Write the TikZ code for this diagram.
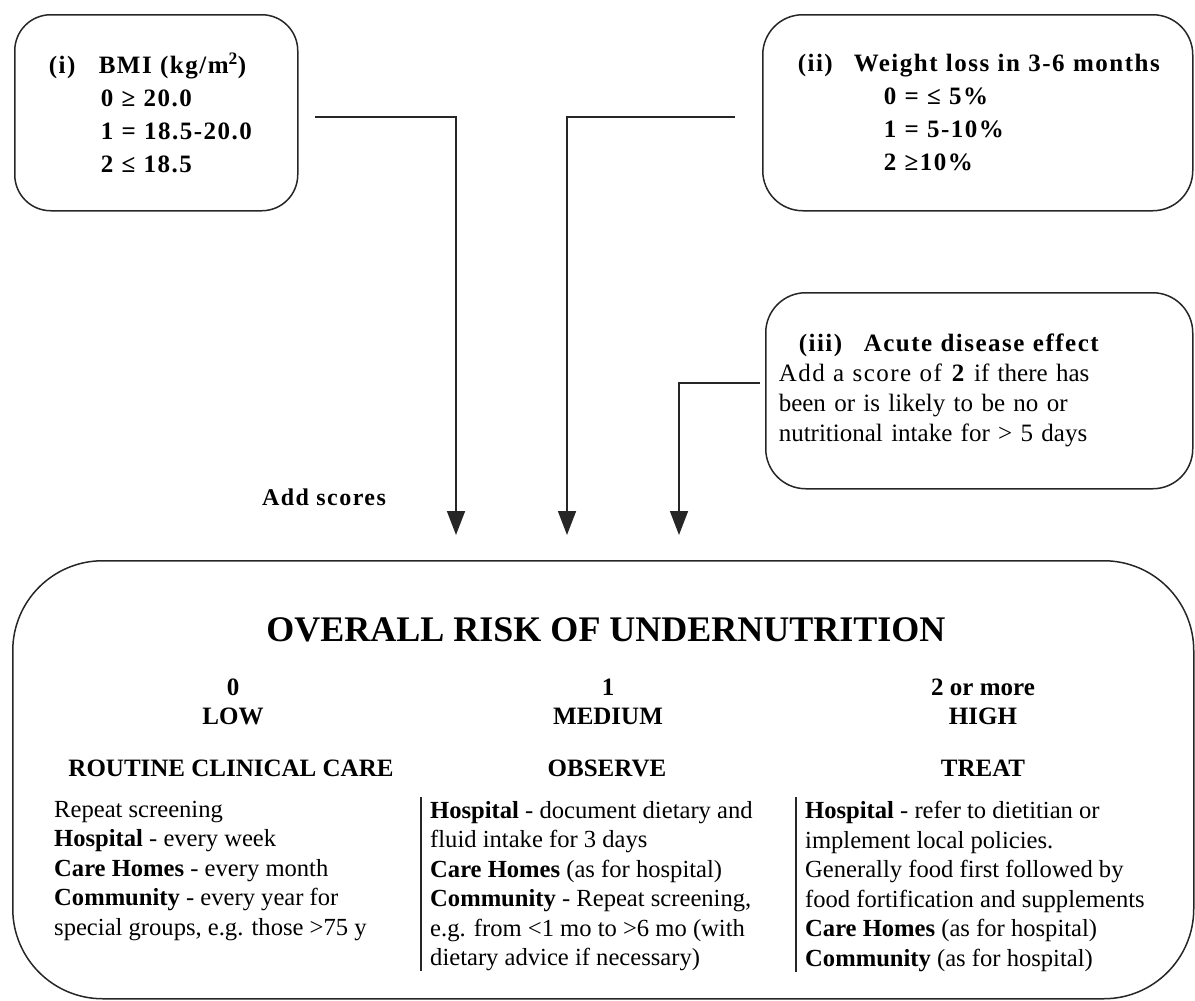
\documentclass[tikz,border=0pt]{standalone}
\usepackage{fontspec}
\setmainfont{Liberation Serif}
\newfontfamily\widefont[LetterSpace=6]{Liberation Serif}
\usetikzlibrary{arrows.meta}

\begin{document}
\begin{tikzpicture}[
    x=1pt, y=-1pt,
    every node/.style = {inner sep=0pt},
    scorebox/.style = {
      draw=black!85, line width=1.5pt,
      rounded corners=36pt,
      anchor=north west, align=left,
      minimum height=196pt, inner ysep=0pt
    },
    flowline/.style = {
      draw=black!85, line width=1.7pt,
      -{Triangle[width=18pt,length=24pt]}
    },
    barline/.style = {draw=black!85, line width=1.4pt},
    scorefont/.style = {font=\widefont\bfseries\fontsize{25}{33}\selectfont},
    headfont/.style = {font=\bfseries\fontsize{25}{29}\selectfont, align=center},
    bodyfont/.style = {font=\fontsize{24.6}{29.5}\selectfont, anchor=north west, align=left}
  ]
    \useasboundingbox (0,0) rectangle (1195,1001);

    % Score boxes
    \node[scorebox, scorefont, text width=215pt, inner xsep=34pt] (bmi) at (14,14)
      {\makebox[50pt][l]{(i)}BMI (kg/m\textsuperscript{2})\\
       \hspace*{52pt}0 ≥ 20.0\\
       \hspace*{52pt}1 = 18.5-20.0\\
       \hspace*{52pt}2 ≤ 18.5};
    \node[scorebox, scorefont, text width=360pt, inner xsep=35pt, rounded corners=40pt] (wtloss) at (762,14)
      {\mbox{\makebox[56pt][l]{(ii)}Weight loss in 3-6 months}\\
       \hspace*{86pt}0 = ≤ 5\%\\
       \hspace*{86pt}1 = 5-10\%\\
       \hspace*{86pt}2 ≥10\%};
    \node[scorebox, text width=401pt, inner xsep=13pt, rounded corners=40pt,
          font=\fontsize{25}{30}\selectfont] (acute) at (765,292)
      {\hspace*{20pt}{\widefont\bfseries\makebox[65pt][l]{(iii)}Acute disease effect}\\
       {\widefont Add a score of \textbf{2}} if there has\\
       been or is likely to be no or\\
       nutritional intake for > 5 days};

    % Connectors
    \coordinate (bmiout) at (315,117);
    \coordinate (wtout) at (735,117);
    \coordinate (acuteout) at (760,383);
    \coordinate (tipA) at (456,535);
    \coordinate (tipB) at (567,535);
    \coordinate (tipC) at (679,535);
    \draw[flowline] (bmiout) -| (tipA);
    \draw[flowline] (wtout) -| (tipB);
    \draw[flowline] (acuteout) -| (tipC);

    \node[font=\widefont\bfseries\fontsize{24}{28}\selectfont] (addscores) at (324,497) {Add scores};

    % Overall risk box
    \node[draw=black!85, line width=1.5pt, rounded corners=90pt, anchor=north west,
          minimum width=1181pt, minimum height=438pt] (risk) at (12,560) {};
    \node[font=\bfseries\fontsize{36}{40}\selectfont] (title) at (606,630)
      {OVERALL RISK OF UNDERNUTRITION};

    % Low risk
    \node[headfont] (lowlvl) at (233,702) {0\\LOW};
    \node[headfont] (lowact) at (231,768) {ROUTINE CLINICAL CARE};
    \node[bodyfont] (lowbody) at (54,801)
      {Repeat screening\\
       \textbf{Hospital} - every week\\
       \textbf{Care Homes} - every month\\
       \textbf{Community} - every year for\\
       special groups, e.g. those >75 y};

    % Medium risk
    \node[headfont] (medlvl) at (608,702) {1\\MEDIUM};
    \node[headfont] (medact) at (607,768) {OBSERVE};
    \node[bodyfont] (medbody) at (430,801)
      {\textbf{Hospital} - document dietary and\\
       fluid intake for 3 days\\
       \textbf{Care Homes} (as for hospital)\\
       \textbf{Community} - Repeat screening,\\
       e.g. from <1 mo to >6 mo (with\\
       dietary advice if necessary)};
    \draw[barline] ([xshift=-9pt,yshift=4pt]medbody.north west) -- ([xshift=-9pt]medbody.south west);

    % High risk
    \node[headfont] (highlvl) at (983,702) {2 or more\\HIGH};
    \node[headfont] (highact) at (983,768) {TREAT};
    \node[bodyfont] (highbody) at (805,801)
      {\textbf{Hospital} - refer to dietitian or\\
       implement local policies.\\
       Generally food first followed by\\
       food fortification and supplements\\
       \textbf{Care Homes} (as for hospital)\\
       \textbf{Community} (as for hospital)};
    \draw[barline] ([xshift=-9pt,yshift=4pt]highbody.north west) -- ([xshift=-9pt]highbody.south west);
\end{tikzpicture}
\end{document}
